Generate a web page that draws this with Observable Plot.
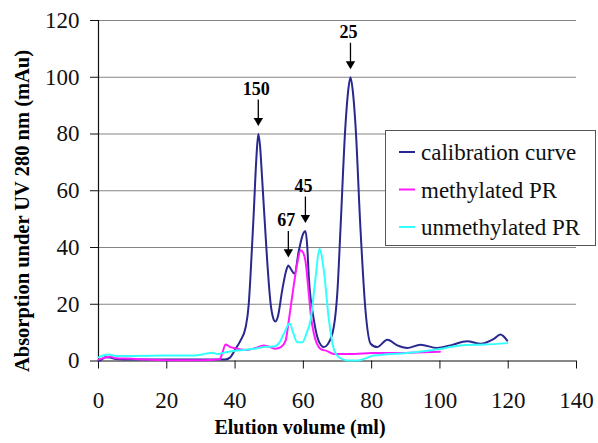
<!DOCTYPE html>
<html><head><meta charset="utf-8">
<script src="https://cdn.jsdelivr.net/npm/d3@7"></script>
<script src="https://cdn.jsdelivr.net/npm/@observablehq/plot@0.6"></script>
<style>
body{margin:0;background:#fff;}
#chart{position:relative;width:598px;height:443px;}
</style>
</head><body><div id="chart"></div>
<script>
// ---- data ----
const seriesNames = ["calibration curve", "methylated PR", "unmethylated PR"];
const seriesColors = ["#28288f", "#ff1aff", "#33ffff"];

const calX = [0,1,2,3.5,5,10,20,30,37,38.5,40,41.5,43.1,44,44.5,45.5,46.2,46.8,47.3,47.9,49.4,50.4,51.2,51.8,52.5,53.8,55,55.6,56.3,57.4,58.7,60,60.6,61.1,61.6,63.1,64.5,66,67.2,68.9,70,70.9,72.3,73.2,73.8,74.4,75.3,76.7,78.2,79.7,81.6,84.6,87.5,90.4,94.3,99.2,103.1,108,111.9,115.8,117.7,119.7];
const calY = [0,0.6,1.3,1.2,0.7,0.5,0.5,0.5,0.5,1.2,4,7,11.9,20,29.6,53,70.7,80,76,64.8,35.4,20.3,15,13.9,15.5,24.9,32,33.7,32.5,30.8,39,45,45.8,41,29.6,14.3,7,4.9,6,11.9,25,47.2,82.5,96,100,96,82.5,47.2,17.8,6.1,4.9,7.5,5.5,4.6,5.7,4.6,5.5,7,6.1,7.8,9.3,7.2];

const metX = [0,2,3.5,5,10,14,20,30,35.5,36.2,37.2,38.5,39.6,43.5,46,48.4,50,51.8,53.5,54.8,55.7,56.7,58.2,59.2,60,60.6,61.6,62.3,63.1,65,67,68.9,75,80,86.5,93,100];
const metY = [0.5,1.2,1.6,1,0.8,0.5,0.3,0.3,0.6,2.5,5.8,5,4.6,3.9,4.6,5.5,5,4.3,5,7.2,14,22.5,34.3,39,38,35.4,23.7,15,9.6,4.3,3.5,2.5,2.5,2.8,2.8,3,3.3];

const unX = [0,1.5,3,5,10,20,28,31.5,33.3,35,37,39.6,45.5,49,51.3,53,54.3,56,57,58.2,59.7,61,62.1,63.6,64.7,66,67.5,68.9,70.4,72.8,76,80.6,90.4,100,106,113,119.7];
const unY = [1.3,2,2.3,1.8,1.8,1.9,1.9,2.6,2.9,2.5,3,3.5,4.3,5,5.1,6.5,9.6,13.3,10,6.6,6.6,10,14.3,29.6,39.6,31.9,14.3,4.3,1.3,0.2,0.2,1.9,2.8,4.2,5.5,5.8,6.3];

const peakLabels = ["150", "67", "45", "25"];
const peakX = [46.8, 55.6, 60.6, 73.8];
const peakY = [80, 33.7, 45.8, 100];

const xTicks = [0,20,40,60,80,100,120,140];
const yTicks = [0,20,40,60,80,100,120];
const xTitle = "Elution volume (ml)";
const yTitle = "Absorption under UV 280 nm (mAu)";

// ---- build ----
const rows = [];
[[calX, calY], [metX, metY], [unX, unY]].forEach(([xs, ys], i) => {
  xs.forEach((x, j) => rows.push({series: seriesNames[i], x, y: ys[j]}));
});
const annot = peakLabels.map((t, i) => ({t, x: peakX[i], y: peakY[i]}));

const W = 598, H = 443, mL = 98, mR = 22, mT = 20, mB = 82.5;
const ppu = (H - mT - mB) / 120; // px per y unit
const serif = "Liberation Serif";

const chart = Plot.plot({
  width: W, height: H,
  marginLeft: mL, marginRight: mR, marginTop: mT, marginBottom: mB,
  style: {color: "#111", background: "#fff", overflow: "visible", fontFamily: serif},
  x: {domain: [0, 140]},
  y: {domain: [0, 120]},
  color: {domain: seriesNames, range: seriesColors},
  marks: [
    Plot.gridY(yTicks.filter(d => d > 0), {stroke: "#858585", strokeOpacity: 1, strokeWidth: 1}),
    Plot.axisY(yTicks, {tickSize: 8, tickPadding: 11, label: null}),
    Plot.axisX(xTicks, {tickSize: 8, tickPadding: 23, label: null}),
    Plot.ruleX([0], {stroke: "#111", strokeWidth: 1.2}),
    Plot.ruleY([0], {stroke: "#111", strokeWidth: 1.2}),
    Plot.line(rows, {x: "x", y: "y", z: "series", stroke: "series", curve: "monotone-x", strokeWidth: 2}),
    Plot.ruleX(annot, {x: "x", y1: d => d.y + 15 / ppu, y2: d => d.y + 34 / ppu, stroke: "#000", strokeWidth: 1.3}),
    Plot.dot(annot, {x: "x", y: "y", dy: -13.4, symbol: "triangle", rotate: 180, r: 3.5, fill: "#000", stroke: null}),
    Plot.text(annot, {x: "x", y: "y", text: "t", dy: -45, dx: -2, fill: "#000"})
  ]
});

const svg = d3.select(chart);
svg.selectAll('g[aria-label="y-axis tick label"] text, g[aria-label="x-axis tick label"] text')
  .style("font-family", serif).style("font-size", "23px").style("fill", "#111");
svg.selectAll('g[aria-label="text"] text')
  .style("font-family", serif).style("font-size", "18px").style("font-weight", "bold");

// axis titles
svg.append("text").attr("x", 300).attr("y", 434).attr("text-anchor", "middle")
  .style("font-family", serif).style("font-weight", "bold").style("font-size", "20px").attr("fill", "#000")
  .text(xTitle);
svg.append("text").attr("transform", "translate(29,211) rotate(-90)").attr("text-anchor", "middle")
  .style("font-family", serif).style("font-weight", "bold").style("font-size", "20.5px").attr("fill", "#000")
  .text(yTitle);

// legend
const lg = svg.append("g");
lg.append("rect").attr("x", 385.5).attr("y", 130.5).attr("width", 210).attr("height", 115)
  .attr("fill", "#fff").attr("stroke", "#555").attr("stroke-width", 1);
seriesNames.forEach((name, i) => {
  const y = 152 + i * 37.5;
  lg.append("line").attr("x1", 399).attr("x2", 415).attr("y1", y).attr("y2", y)
    .attr("stroke", seriesColors[i]).attr("stroke-width", 2);
  lg.append("text").attr("x", 421).attr("y", y + 8).attr("text-anchor", "start")
    .style("font-family", serif).style("font-size", "23px").attr("fill", "#111").text(name);
});

document.getElementById("chart").appendChild(chart);
</script>
</body></html>
